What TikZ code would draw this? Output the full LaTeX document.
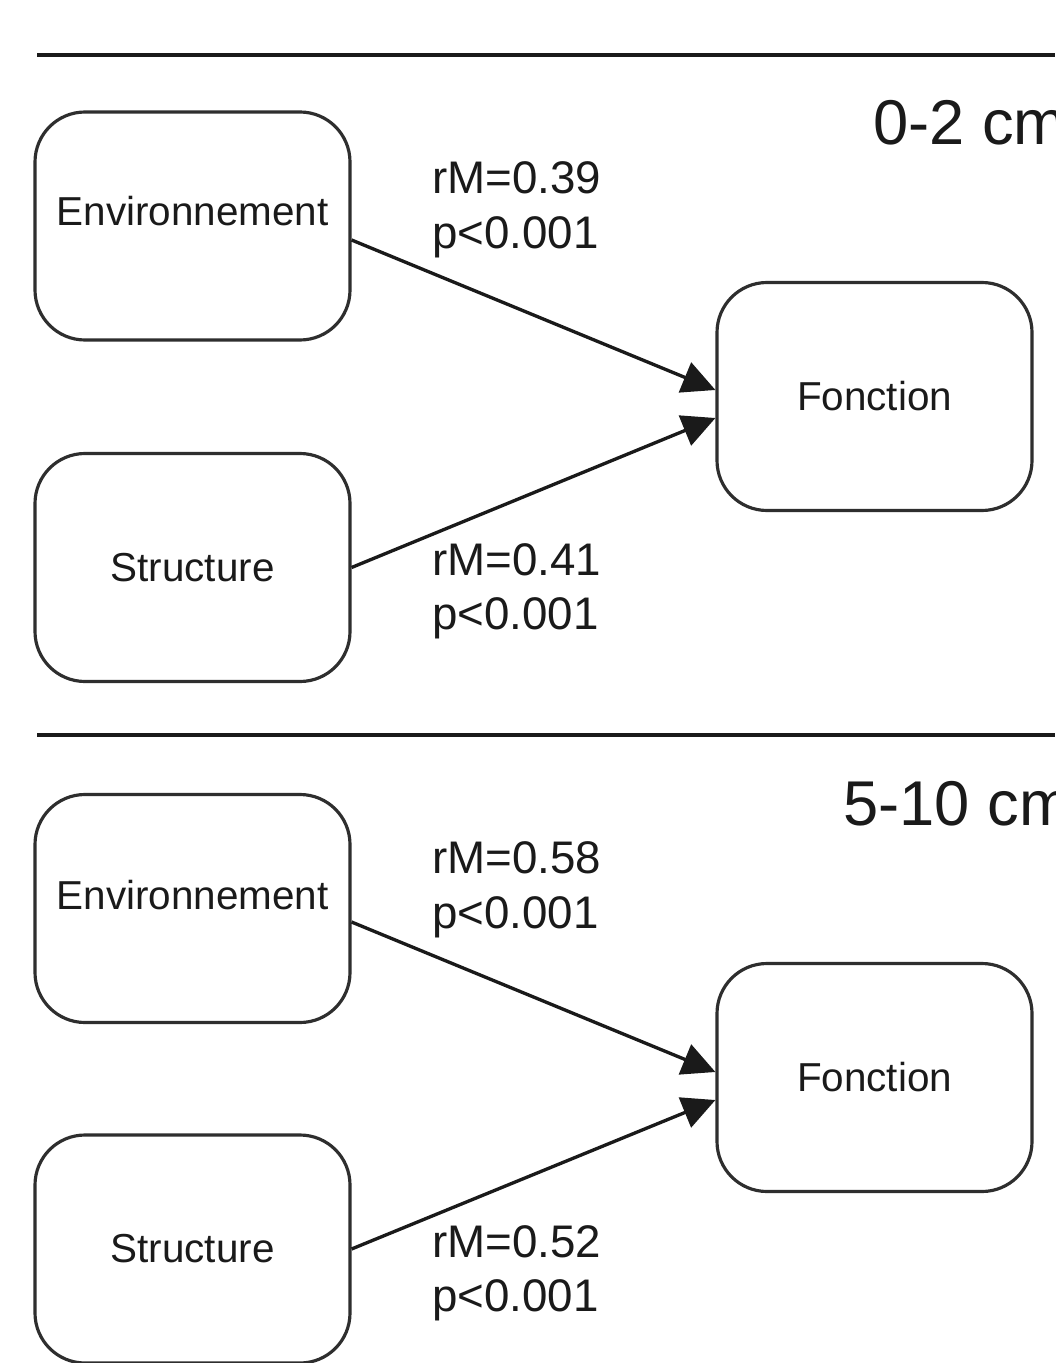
\documentclass[tikz,border=0pt]{standalone}
\usepackage{fontspec}
\setmainfont{Liberation Sans}
\usetikzlibrary{arrows.meta}
\definecolor{Edge}{HTML}{2E2E2E}
\definecolor{Ink}{HTML}{1A1A1A}

\begin{document}
\begin{tikzpicture}[
  factor/.style={
    rectangle,
    rounded corners=1cm,
    draw=Edge,
    line width=1.8pt,
    fill=white,
    minimum width=6.3cm,
    minimum height=4.56cm,
    inner sep=0pt
  },
  boxtext/.style={
    inner sep=0pt,
    text=Ink,
    font=\fontsize{23}{27}\selectfont
  },
  stat/.style={
    anchor=west,
    align=left,
    inner sep=0pt,
    text=Ink,
    font=\fontsize{26}{31}\selectfont
  },
  layertitle/.style={
    anchor=base west,
    inner sep=0pt,
    text=Ink,
    font=\fontsize{36}{42}\selectfont
  },
  link/.style={
    -{Triangle[length=6.6mm,width=6.4mm]},
    line width=1.9pt,
    draw=Ink
  },
  separator/.style={
    line width=1.9pt,
    draw=Ink
  }
]

\path[use as bounding box, fill=white] (0,0) rectangle (21.1,-27.26);

\draw[separator] (0.74,-1.1) -- (21.1,-1.1);
\node[layertitle] (layer1) at (17.46,-2.9) {0-2 cm};

\node[factor] (env1) at (3.85,-4.52) {};
\node[boxtext] (envtxt1) at ([yshift=0.3cm]env1.center) {Environnement};
\node[factor] (str1) at (3.85,-11.35) {};
\node[boxtext] (strtxt1) at (str1.center) {Structure};
\node[factor] (fon1) at (17.49,-7.93) {};
\node[boxtext] (fontxt1) at (fon1.center) {Fonction};

\draw[link] ([yshift=-0.28cm]env1.east) -- ([yshift=0.13cm]fon1.west);
\draw[link] (str1.east) -- ([yshift=-0.43cm]fon1.west);

\node[stat] (stat1) at (8.64,-4.2) {rM=0.39\\p<0.001};
\node[stat] (stat2) at (8.64,-11.83) {rM=0.41\\p<0.001};

\draw[separator] (0.74,-14.7) -- (21.1,-14.7);
\node[layertitle] (layer2) at (16.86,-16.5) {5-10 cm};

\node[factor] (env2) at (3.85,-18.17) {};
\node[boxtext] (envtxt2) at ([yshift=0.27cm]env2.center) {Environnement};
\node[factor] (str2) at (3.85,-24.98) {};
\node[boxtext] (strtxt2) at (str2.center) {Structure};
\node[factor] (fon2) at (17.49,-21.55) {};
\node[boxtext] (fontxt2) at (fon2.center) {Fonction};

\draw[link] ([yshift=-0.27cm]env2.east) -- ([yshift=0.11cm]fon2.west);
\draw[link] (str2.east) -- ([yshift=-0.45cm]fon2.west);

\node[stat] (stat3) at (8.64,-17.8) {rM=0.58\\p<0.001};
\node[stat] (stat4) at (8.64,-25.47) {rM=0.52\\p<0.001};

\end{tikzpicture}
\end{document}
